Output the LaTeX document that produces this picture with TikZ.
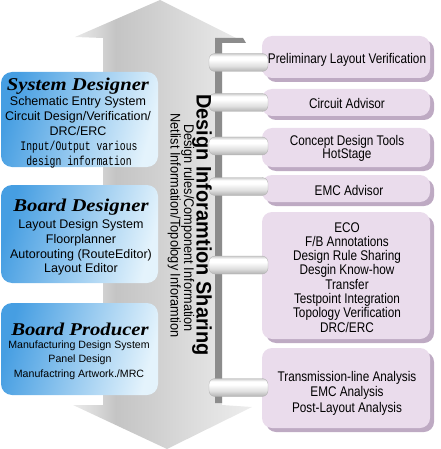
\documentclass[tikz,border=0pt]{standalone}
\usepackage{fontspec}
\setmainfont{Liberation Sans}
\newfontfamily\ttlFnt[FakeStretch=1.15]{Liberation Serif}
\newfontfamily\rgtFnt[FakeStretch=0.84]{Liberation Sans}
\newfontfamily\vtFntA[FakeStretch=0.95]{Liberation Sans}
\newfontfamily\vtFntB[FakeStretch=0.91]{Liberation Sans}
\newfontfamily\monoFnt[FakeStretch=0.75]{Liberation Mono}
\definecolor{boxfill}{RGB}{234,220,236}
\definecolor{boxshadow}{RGB}{190,170,195}
\definecolor{blueA}{RGB}{70,158,226}
\definecolor{blueB}{RGB}{228,243,252}
\definecolor{railgray}{RGB}{140,140,140}
\pgfdeclarehorizontalshading{arrowshade}{100bp}{color(0bp)=(gray!14); color(25bp)=(gray!16); color(32bp)=(gray!32); color(37bp)=(gray!46); color(47bp)=(gray!38); color(61bp)=(gray!25); color(75bp)=(gray!14); color(100bp)=(gray!14)}
\pgfdeclareverticalshading{pipeshade}{100bp}{color(0bp)=(gray!60); color(25bp)=(gray!60); color(40bp)=(gray!25); color(58bp)=(white); color(67bp)=(white); color(75bp)=(gray!40); color(100bp)=(gray!40)}
% right box with its shadow: #1 name, #2 centre x, #3 centre y, #4 height
\newcommand\rightBox[4]{%
  \fill[boxshadow, rounded corners=10pt] (#2-84+4,#3-#4/2+4) rectangle (#2+84+4,#3+#4/2+4);
  \node[rbox, minimum height=#4pt] (#1) at (#2,#3) {};}
\begin{document}
\begin{tikzpicture}[x=1pt,y=-1pt,
  lbox/.style={rounded corners=11pt, minimum width=157pt, inner sep=0pt, left color=blueA, right color=blueB, shading angle=75},
  rbox/.style={rounded corners=10pt, minimum width=168pt, inner sep=0pt, fill=boxfill},
  pipe/.style={rounded corners=6pt, minimum width=59pt, minimum height=18pt, inner sep=0pt, shade, shading=pipeshade, shading angle=0, draw=gray!60, line width=0.3pt},
  ttl/.style={anchor=base, inner sep=0pt, font=\ttlFnt\bfseries\itshape\fontsize{18}{20}\selectfont},
  ltxt/.style={anchor=base, inner sep=0pt, font=\fontsize{12.5}{14}\selectfont},
  mtxt/.style={anchor=base, inner sep=0pt, font=\monoFnt\fontsize{13}{14}\selectfont},
  stxt/.style={anchor=base, inner sep=0pt, font=\fontsize{10.6}{12}\selectfont},
  rtxt/.style={anchor=base, inner sep=0pt, font=\rgtFnt\fontsize{14}{15}\selectfont},
  vtitle/.style={anchor=base, inner sep=0pt, rotate=-90, font=\vtFntA\bfseries\fontsize{21}{22}\selectfont},
  vsub/.style={anchor=base, inner sep=0pt, rotate=-90, font=\vtFntB\fontsize{14}{15}\selectfont}]
\useasboundingbox (0,0) rectangle (440,449);
% double arrow
\shade[shading=arrowshade] (160,0) -- (246,43) -- (222,43) -- (222,405) -- (252,407) -- (167,449) -- (73,405) -- (103,405) -- (103,38) -- (75,37) -- cycle;
% rail
\coordinate (railtop) at (215,38);
\coordinate (railbot) at (222,403);
\fill[railgray] (railtop) -- (243,38) -- (246,43) -- (222,43) -- (railbot) -- (215,403) -- cycle;
% left boxes
\node[lbox, minimum height=95pt] (l1) at (79.5,119.5) {};
\node[lbox, minimum height=98pt] (l2) at (79.5,234) {};
\node[lbox, minimum height=92pt] (l3) at (79.5,349) {};
% right boxes
\rightBox{r1}{346}{57}{42}
\rightBox{r2}{346}{102.5}{27}
\rightBox{r3}{346}{147.5}{39}
\rightBox{r4}{346}{188.5}{27}
\rightBox{r5}{346}{275.5}{127}
\rightBox{r6}{346}{388}{80}
% pipes (rail -> boxes)
\node[pipe] (p1) at (238.5,62.5) {};
\node[pipe] (p2) at (238.5,102.5) {};
\node[pipe] (p3) at (238.5,146) {};
\node[pipe] (p4) at (238.5,186.5) {};
\node[pipe] (p5) at (238.5,265) {};
\node[pipe] (p6) at (238.5,387.5) {};
% vertical texts
\node[vtitle] (vt) at (196.5,225) {Design Inforamtion Sharing};
\node[vsub] (vs1) at (184,228) {Design rules/Component Information};
\node[vsub] (vs2) at (170.5,225.5) {Netlist Information/Topology Inforamtion};
% left texts
\node[ttl] (t1) at (78,91) {System Designer};
\node[ltxt] (t1a) at (78,106) {Schematic Entry System};
\node[ltxt] (t1b) at (78,121) {Circuit Design/Verification/};
\node[ltxt] (t1c) at (78,136) {DRC/ERC};
\node[mtxt] (t1d) at (79,151) {Input/Output various};
\node[mtxt] (t1e) at (79,165.5) {design information};
\node[ttl] (t2) at (81,211) {Board Designer};
\node[ltxt] (t2a) at (81,228) {Layout Design System};
\node[ltxt] (t2b) at (81,243.5) {Floorplanner};
\node[ltxt] (t2c) at (81,258) {Autorouting (RouteEditor)};
\node[ltxt] (t2d) at (81,272) {Layout Editor};
\node[ttl] (t3) at (80,335) {Board Producer};
\node[stxt] (t3a) at (79,348) {Manufacturing Design System};
\node[stxt] (t3b) at (80,362.5) {Panel Design};
\node[stxt] (t3c) at (79,377) {Manufactring Artwork./MRC};
% right texts
\node[rtxt] (x1) at (347,64) {Preliminary Layout Verification};
\node[rtxt] (x2) at (347,109) {Circuit Advisor};
\node[rtxt] (x3a) at (347,146) {Concept Design Tools};
\node[rtxt] (x3b) at (347,158.5) {HotStage};
\node[rtxt] (x4) at (349,195) {EMC Advisor};
\node[rtxt] (x5a) at (347,232) {ECO};
\node[rtxt] (x5b) at (347,246.3) {F/B Annotations};
\node[rtxt] (x5c) at (347,260.6) {Design Rule Sharing};
\node[rtxt] (x5d) at (347,274.9) {Desgin Know-how};
\node[rtxt] (x5e) at (347,289.2) {Transfer};
\node[rtxt] (x5f) at (347,303.5) {Testpoint Integration};
\node[rtxt] (x5g) at (347,317.8) {Topology Verification};
\node[rtxt] (x5h) at (347,332.1) {DRC/ERC};
\node[rtxt] (x6a) at (347,381) {Transmission-line Analysis};
\node[rtxt] (x6b) at (347,396.5) {EMC Analysis};
\node[rtxt] (x6c) at (347,412) {Post-Layout Analysis};
\end{tikzpicture}
\end{document}
